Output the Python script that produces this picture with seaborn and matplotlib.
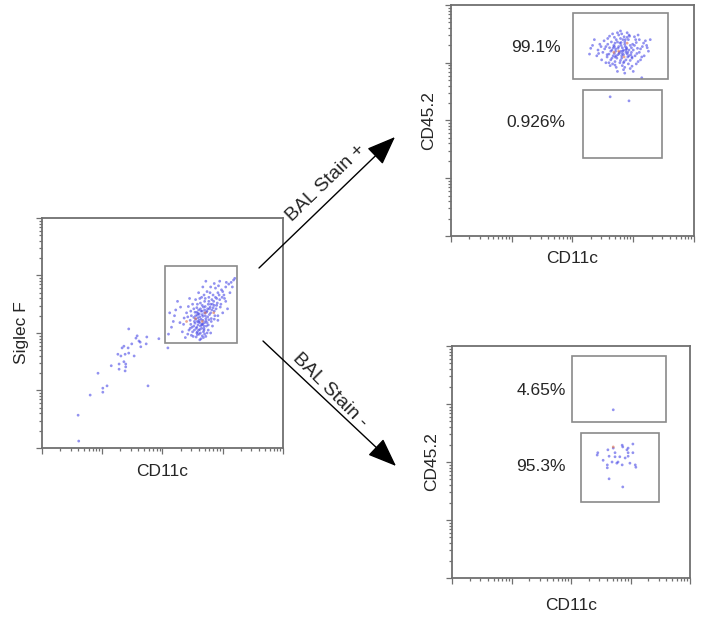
import numpy as np
import pandas as pd
import matplotlib.pyplot as plt
import seaborn as sns
from matplotlib.patches import Rectangle
from matplotlib.ticker import LogLocator, NullFormatter

# --- datos (log10 de la intensidad) --- #

# panel izquierdo: CD11c vs Siglec F
IZQ_X = [3.62, 3.70, 3.58, 3.75, 3.66, 3.80, 3.52, 3.68, 3.60, 3.72,
         3.85, 3.55, 3.64, 3.78, 3.50, 3.57, 3.63, 3.69, 3.74, 3.82,
         3.88, 3.92, 3.98, 4.05, 4.10, 4.14, 3.95, 4.02, 3.90, 3.86,
         3.46, 3.40, 3.35, 3.44, 3.48, 3.56, 3.66, 3.60, 3.70, 3.77,
         3.65, 3.80, 3.72, 3.58, 3.52, 3.30, 3.25, 3.20, 3.15, 3.10,
         3.38, 3.76, 3.83, 3.92, 4.00, 4.08, 3.96, 3.62, 3.67, 3.54,
         3.59, 3.71, 3.74, 3.63, 3.68, 3.57, 3.81, 3.87, 3.49, 3.61,
         3.53, 3.79, 3.84, 3.93, 4.12, 4.18, 3.42, 3.66, 3.73, 3.58,
         3.65, 3.70, 3.77, 3.61, 3.55, 3.86, 3.90, 3.99, 3.47, 3.33,
         3.64, 3.72, 3.80, 4.05, 3.95, 3.60, 3.45, 3.69, 3.76, 3.82,
         3.61, 3.67, 3.73, 3.59, 3.64, 3.70, 3.56, 3.66, 3.78, 3.83,
         3.62, 3.69, 3.75, 3.53, 3.48, 3.57, 3.63, 3.71, 3.79, 3.88,
         3.94, 4.00, 4.06, 4.16, 4.20, 3.91, 3.84, 3.97, 4.03, 3.89,
         3.36, 3.29, 3.22, 3.18, 3.12, 3.42, 3.51, 3.58, 3.68, 3.74,
         3.65, 3.60, 3.67, 3.72, 3.58, 3.54, 3.76, 3.81, 3.86, 3.92,
         3.47, 3.43, 3.62, 3.74, 3.86, 3.67, 3.55, 3.50, 3.80, 3.69,
         3.63, 3.77, 3.71, 3.59, 3.66, 3.52, 3.57, 3.62, 3.70, 3.46,
         2.44, 2.58, 2.56, 2.61, 2.63, 2.74, 2.94, 2.73, 2.64, 2.49,
         2.43, 2.36, 2.33, 2.26, 2.38, 2.44, 2.53, 2.31, 2.36, 2.39,
         2.39, 2.28, 2.15, 2.28, 2.38, 1.93, 2.08, 2.01, 2.01, 1.80,
         2.76, 1.60, 1.61, 3.09]
IZQ_Y = [3.28, 3.35, 3.20, 3.42, 3.15, 3.50, 3.12, 3.45, 3.05, 3.25,
         3.55, 3.30, 3.38, 3.32, 3.02, 3.10, 3.00, 3.08, 3.18, 3.40,
         3.62, 3.70, 3.75, 3.80, 3.85, 3.88, 3.58, 3.66, 3.48, 3.38,
         3.22, 3.35, 3.15, 3.05, 2.96, 2.93, 2.95, 3.40, 3.55, 3.62,
         3.62, 3.80, 3.90, 3.50, 3.42, 3.45, 3.55, 3.30, 3.10, 2.98,
         2.92, 3.05, 3.12, 3.22, 3.35, 3.42, 3.45, 3.18, 3.22, 3.17,
         3.26, 3.30, 3.38, 3.12, 3.02, 3.36, 3.25, 3.30, 3.10, 2.98,
         3.05, 3.45, 3.66, 3.82, 3.70, 3.92, 3.28, 3.48, 3.12, 3.02,
         3.08, 3.18, 3.23, 3.33, 3.24, 3.48, 3.60, 3.62, 3.15, 3.02,
         2.90, 2.94, 3.00, 3.55, 3.90, 3.70, 3.60, 3.66, 3.50, 3.58,
         3.22, 3.29, 3.36, 3.14, 3.24, 3.40, 3.08, 3.32, 3.42, 3.50,
         3.06, 3.12, 3.28, 3.20, 3.30, 3.44, 3.52, 3.60, 3.70, 3.78,
         3.66, 3.72, 3.88, 3.80, 3.95, 3.52, 3.44, 3.50, 3.60, 3.42,
         3.26, 3.18, 3.40, 3.20, 3.35, 2.98, 2.94, 2.97, 2.92, 3.00,
         3.14, 3.19, 3.16, 3.21, 3.31, 3.36, 3.14, 3.20, 3.24, 3.30,
         3.38, 3.46, 3.60, 3.72, 3.86, 3.80, 3.58, 3.50, 3.35, 3.05,
         3.42, 3.55, 3.46, 3.34, 3.38, 3.27, 3.00, 2.88, 2.98, 3.08,
         3.07, 2.95, 2.91, 2.86, 2.84, 2.93, 2.90, 2.81, 2.76, 2.81,
         2.74, 2.77, 2.74, 2.63, 2.63, 2.65, 2.60, 2.60, 2.50, 2.46,
         2.41, 2.46, 2.43, 2.37, 2.34, 2.30, 2.08, 2.04, 1.97, 1.92,
         2.08, 1.57, 1.12, 2.74]
IZQ_ROJO_X = [3.55, 3.66, 3.71, 3.40, 3.85]
IZQ_ROJO_Y = [3.25, 3.20, 3.35, 3.20, 3.35]

# panel superior derecho: BAL Stain +
SUP_X = [3.83, 3.75, 3.90, 3.70, 3.95, 3.80, 3.65, 3.88, 3.72, 4.00,
         3.60, 3.85, 3.78, 4.05, 3.68, 3.92, 3.55, 4.10, 3.82, 3.74,
         3.98, 3.63, 3.87, 3.77, 3.93, 3.69, 3.81, 3.86, 3.71, 3.96,
         4.15, 4.20, 4.25, 4.08, 3.50, 3.45, 3.40, 3.30, 3.58, 3.66,
         3.79, 3.90, 4.02, 3.84, 3.72, 3.95, 4.05, 3.62, 3.55, 4.12,
         3.88, 3.76, 3.67, 3.99, 3.82, 3.73, 3.91, 3.85, 3.64, 3.57,
         4.18, 4.22, 3.48, 3.36, 3.79, 3.94, 4.07, 3.70, 3.80, 3.89,
         3.61, 3.75, 3.97, 4.03, 3.84, 3.78, 3.66, 3.92, 4.28, 3.52,
         3.86, 4.00, 3.74, 3.42, 3.28,
         3.84, 3.77, 3.89, 3.71, 3.93, 3.81, 3.67, 3.86, 3.74, 3.97,
         3.63, 3.83, 3.79, 4.02, 3.70, 3.90, 3.58, 4.06, 3.84, 3.76,
         3.95, 3.65, 3.88, 3.80, 3.91, 3.72, 3.82, 3.87, 3.69, 3.98,
         4.12, 4.17, 4.23, 4.10, 3.53, 3.47, 3.43, 3.33, 3.61, 3.69,
         3.81, 3.93, 4.04, 3.86, 3.70, 3.98, 4.08, 3.60, 3.57, 4.14,
         4.14, 3.62, 3.93]
SUP_Y = [4.20, 4.25, 4.15, 4.10, 4.30, 4.35, 4.22, 4.05, 4.40, 4.22,
         4.15, 4.45, 4.00, 4.35, 4.30, 4.40, 4.28, 4.18, 3.95, 4.52,
         4.08, 4.05, 4.28, 4.18, 4.22, 4.16, 4.12, 4.36, 4.24, 4.14,
         4.28, 4.38, 4.20, 4.48, 4.18, 4.32, 4.12, 4.25, 4.42, 4.50,
         4.55, 4.52, 4.45, 3.88, 3.92, 3.90, 3.98, 3.95, 4.00, 4.05,
         4.18, 4.28, 4.12, 4.32, 4.26, 4.08, 4.10, 4.02, 4.36, 4.10,
         4.12, 4.30, 4.05, 4.40, 4.42, 4.46, 4.25, 4.02, 4.30, 4.24,
         4.26, 4.14, 4.18, 4.12, 4.14, 4.34, 3.98, 3.98, 4.40, 4.38,
         3.82, 3.85, 3.85, 4.22, 4.15,
         4.22, 4.16, 4.26, 4.20, 4.12, 4.08, 4.26, 4.32, 4.36, 4.26,
         4.20, 4.40, 4.04, 4.30, 4.34, 4.44, 4.32, 4.16, 4.00, 4.48,
         4.04, 4.08, 4.22, 4.20, 4.18, 4.12, 4.16, 4.40, 4.28, 4.10,
         4.24, 4.34, 4.26, 4.40, 4.24, 4.28, 4.16, 4.30, 4.46, 4.44,
         4.50, 4.48, 4.40, 3.92, 3.96, 3.94, 4.02, 4.00, 4.14, 4.10,
         3.74, 3.41, 3.34]
SUP_ROJO_X = [3.76, 3.85, 3.68, 3.90]
SUP_ROJO_Y = [4.20, 4.10, 4.18, 4.34]

# panel inferior derecho: BAL Stain -
INF_X = [3.45, 3.44, 3.62, 3.64, 3.71, 3.74, 3.86, 3.87, 3.94, 3.96,
         4.04, 3.96, 4.04, 3.82, 3.79, 3.69, 3.61, 3.61, 3.77, 3.86,
         3.99, 4.08, 4.09, 3.91, 3.64, 3.87, 3.54, 3.74, 3.96, 3.71]
INF_Y = [3.16, 3.12, 3.21, 3.10, 3.24, 3.16, 3.29, 3.26, 3.21, 3.16,
         3.31, 3.10, 3.16, 3.09, 3.00, 3.00, 2.95, 2.90, 2.98, 2.95,
         2.98, 2.95, 2.91, 3.07, 2.71, 2.57, 3.03, 3.09, 3.24, 3.90]
INF_ROJO_X = [3.71]
INF_ROJO_Y = [3.26]

# compuertas (x0, x1, y0, y1) en log10
GATE_IZQ = [(3.04, 4.24, 2.83, 4.17)]
GATES_SUP = [(3.01, 4.57, 3.72, 4.86), (3.17, 4.47, 2.35, 3.53)]
GATES_INF = [(3.02, 4.60, 3.69, 4.83), (3.17, 4.48, 2.31, 3.50)]

# porcentajes (texto, x, y) en log10
PCT_SUP = [("99.1%", 2.40, 4.27), ("0.926%", 2.40, 2.96)]
PCT_INF = [("4.65%", 2.50, 4.24), ("95.3%", 2.50, 2.93)]

AZUL = "#4a4ae6"
ROJO = "#e0704a"
GRIS = "#707070"


def armar_df(xs, ys, xr, yr):
    df = pd.DataFrame({
        "x": np.power(10.0, xs + xr),
        "y": np.power(10.0, ys + yr),
        "dens": ["baja"] * len(xs) + ["alta"] * len(xr),
    })
    return df


def panel(ax, df, gates, pcts, xlabel, ylabel, xpad, ypad):
    sns.scatterplot(data=df, x="x", y="y", hue="dens",
                    palette={"baja": AZUL, "alta": ROJO},
                    s=4, linewidth=0, alpha=0.6, legend=False, ax=ax)
    ax.set_xscale("log")
    ax.set_yscale("log")
    ax.set_xlim(10, 1e5)
    ax.set_ylim(10, 1e5)
    for axis in (ax.xaxis, ax.yaxis):
        axis.set_major_locator(LogLocator(base=10))
        axis.set_minor_locator(LogLocator(base=10, subs=np.arange(2, 10)))
        axis.set_major_formatter(NullFormatter())
        axis.set_minor_formatter(NullFormatter())
    ax.tick_params(which="both", direction="out", bottom=True, left=True,
                   colors=GRIS, width=0.9)
    ax.tick_params(which="major", length=4)
    ax.tick_params(which="minor", length=2.5)
    for sp in ax.spines.values():
        sp.set_color(GRIS)
        sp.set_linewidth(1.3)

    for x0, x1, y0, y1 in gates:
        ax.add_patch(Rectangle((10 ** x0, 10 ** y0), 10 ** x1 - 10 ** x0,
                               10 ** y1 - 10 ** y0, fill=False,
                               edgecolor="#8a8a8a", linewidth=1.2))
    for txt, x, y in pcts:
        ax.text(10 ** x, 10 ** y, txt, ha="center", va="center", fontsize=12.5)

    ax.set_xlabel(xlabel, fontsize=12.5, labelpad=xpad)
    ax.set_ylabel(ylabel, fontsize=12.5, labelpad=ypad)


sns.set_style("white")
plt.rcParams["font.family"] = ["Liberation Sans", "DejaVu Sans"]

fig = plt.figure(figsize=(7.03, 6.24), dpi=100)
ax_izq = fig.add_axes([0.0597, 0.2821, 0.3428, 0.3686])
ax_sup = fig.add_axes([0.6415, 0.6218, 0.3457, 0.3702])
ax_inf = fig.add_axes([0.6430, 0.0737, 0.3385, 0.3718])

panel(ax_izq, armar_df(IZQ_X, IZQ_Y, IZQ_ROJO_X, IZQ_ROJO_Y), GATE_IZQ, [],
      "CD11c", "Siglec F", 4, 2)
panel(ax_sup, armar_df(SUP_X, SUP_Y, SUP_ROJO_X, SUP_ROJO_Y), GATES_SUP, PCT_SUP,
      "CD11c", "CD45.2", 3, 3)
panel(ax_inf, armar_df(INF_X, INF_Y, INF_ROJO_X, INF_ROJO_Y), GATES_INF, PCT_INF,
      "CD11c", "CD45.2", 7, 2)

# flechas entre paneles
flecha = dict(arrowstyle="-|>,head_length=0.9,head_width=0.35", color="black",
              lw=1.0, mutation_scale=20, shrinkA=0, shrinkB=0)
ax_izq.annotate("", xy=(395, 487), xytext=(259, 356), xycoords="figure pixels",
                textcoords="figure pixels", arrowprops=flecha, annotation_clip=False)
ax_izq.annotate("", xy=(396, 158), xytext=(263, 283), xycoords="figure pixels",
                textcoords="figure pixels", arrowprops=flecha, annotation_clip=False)
fig.text(326 / 703, 441 / 624, "BAL Stain +", rotation=44, fontsize=14,
         ha="center", va="center", rotation_mode="anchor")
fig.text(330 / 703, 234 / 624, "BAL Stain -", rotation=-45, fontsize=14,
         ha="center", va="center", rotation_mode="anchor")

plt.savefig("out.png", dpi=100)
